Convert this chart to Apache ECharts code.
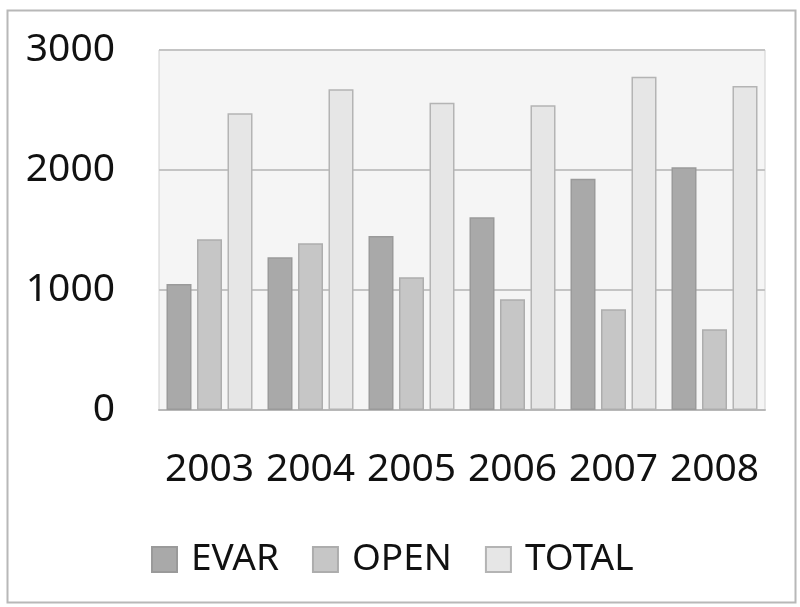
<!DOCTYPE html>
<html>
<head>
<meta charset="utf-8">
<script src="https://cdn.jsdelivr.net/npm/echarts@6/dist/echarts.min.js"></script>
<style>
  html, body { margin: 0; padding: 0; background: #fff; }
  #chart { width: 800px; height: 607px; }
</style>
</head>
<body>
<div id="chart"></div>
<script>
// 数据
const years = ["2003", "2004", "2005", "2006", "2007", "2008"];
const evar = [1050, 1272, 1450, 1606, 1928, 2022];
const open = [1422, 1389, 1106, 922, 839, 672];
const total = [2472, 2672, 2561, 2539, 2778, 2700];
const yTicks = [0, 1000, 2000, 3000];

const font = "Noto Sans";

const chart = echarts.init(document.getElementById("chart"));

const barStyle = (fill, border) => ({
  color: fill,
  borderColor: border,
  borderWidth: 1.5,
});

const options = {
  animation: false,
  backgroundColor: "#fff",
  graphic: [
    {
      type: "rect",
      left: 5,
      top: 8,
      shape: { width: 788, height: 592 },
      style: { fill: "none", stroke: "#b8b8b8", lineWidth: 2 },
      silent: true,
    },
  ],
  grid: {
    left: 159,
    right: 35,
    top: 50,
    bottom: 197,
    show: true,
    backgroundColor: "#f5f5f5",
    borderColor: "#d0d0d0",
    borderWidth: 1,
  },
  legend: {
    left: 146,
    top: 536,
    itemWidth: 25,
    itemHeight: 25,
    itemGap: 33,
    icon: "rect",
    data: ["EVAR", "OPEN", "TOTAL"],
    textStyle: {
      fontFamily: font,
      fontSize: 37,
      color: "#111",
      padding: [0, 0, 0, 9],
    },
  },
  xAxis: {
    type: "category",
    data: years,
    axisLine: { lineStyle: { color: "#b8b8b8", width: 2 } },
    axisTick: { show: false },
    axisLabel: {
      interval: 0,
      margin: 40,
      fontFamily: font,
      fontSize: 39,
      color: "#111",
    },
  },
  yAxis: {
    type: "value",
    min: yTicks[0],
    max: yTicks[yTicks.length - 1],
    interval: 1000,
    axisLine: { show: false },
    axisTick: { show: false },
    splitLine: { lineStyle: { color: "#c4c4c4", width: 2 } },
    axisLabel: {
      margin: 44,
      fontFamily: font,
      fontSize: 39,
      color: "#111",
      formatter: (v) => String(v),
    },
  },
  series: [
    {
      name: "EVAR",
      type: "bar",
      data: evar,
      barWidth: 25,
      barGap: "22%",
      itemStyle: barStyle("#a9a9a9", "#9a9a9a"),
    },
    {
      name: "OPEN",
      type: "bar",
      data: open,
      barWidth: 25,
      barGap: "22%",
      itemStyle: barStyle("#c6c6c6", "#adadad"),
    },
    {
      name: "TOTAL",
      type: "bar",
      data: total,
      barWidth: 25,
      barGap: "22%",
      itemStyle: barStyle("#e6e6e6", "#b4b4b4"),
    },
  ],
};

chart.setOption(options);
</script>
</body>
</html>
